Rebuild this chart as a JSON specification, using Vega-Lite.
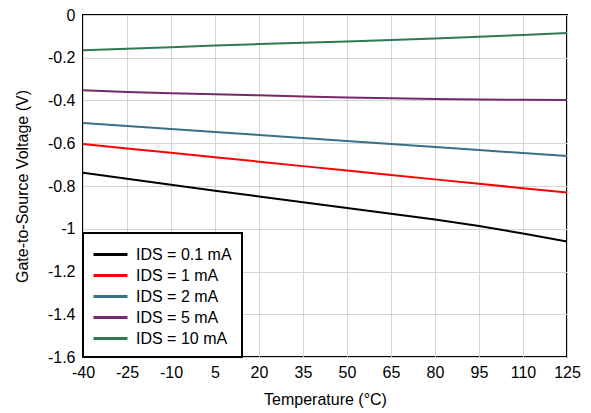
{
  "$schema": "https://vega.github.io/schema/vega-lite/v6.json",
  "width": 484,
  "height": 342,
  "autosize": {"type": "none"},
  "padding": {"left": 83, "top": 15, "right": 24, "bottom": 56},
  "background": "white",
  "config": {
    "font": "Liberation Sans",
    "view": {"stroke": "black", "strokeWidth": 2},
    "axis": {
      "domain": false,
      "ticks": false,
      "gridColor": "#d4d4d4",
      "gridWidth": 1,
      "labelColor": "black",
      "titleColor": "black",
      "labelFont": "Liberation Sans",
      "titleFont": "Liberation Sans",
      "labelFontSize": 16,
      "titleFontSize": 16,
      "titleFontWeight": "normal"
    },
    "legend": {"strokeWidth": 2}
  },
  "data": {
    "values": [
      {"t": -40, "v": -0.738, "s": "0.1 mA"}, {"t": -25, "v": -0.766, "s": "0.1 mA"}, {"t": -10, "v": -0.794, "s": "0.1 mA"}, {"t": 5, "v": -0.822, "s": "0.1 mA"}, {"t": 20, "v": -0.849, "s": "0.1 mA"}, {"t": 35, "v": -0.876, "s": "0.1 mA"}, {"t": 50, "v": -0.903, "s": "0.1 mA"}, {"t": 65, "v": -0.930, "s": "0.1 mA"}, {"t": 80, "v": -0.957, "s": "0.1 mA"}, {"t": 95, "v": -0.987, "s": "0.1 mA"}, {"t": 110, "v": -1.022, "s": "0.1 mA"}, {"t": 125, "v": -1.060, "s": "0.1 mA"},
      {"t": -40, "v": -0.604, "s": "1 mA"}, {"t": -25, "v": -0.625, "s": "1 mA"}, {"t": -10, "v": -0.645, "s": "1 mA"}, {"t": 5, "v": -0.666, "s": "1 mA"}, {"t": 20, "v": -0.686, "s": "1 mA"}, {"t": 35, "v": -0.707, "s": "1 mA"}, {"t": 50, "v": -0.728, "s": "1 mA"}, {"t": 65, "v": -0.748, "s": "1 mA"}, {"t": 80, "v": -0.769, "s": "1 mA"}, {"t": 95, "v": -0.790, "s": "1 mA"}, {"t": 110, "v": -0.810, "s": "1 mA"}, {"t": 125, "v": -0.831, "s": "1 mA"},
      {"t": -40, "v": -0.505, "s": "2 mA"}, {"t": -25, "v": -0.519, "s": "2 mA"}, {"t": -10, "v": -0.533, "s": "2 mA"}, {"t": 5, "v": -0.547, "s": "2 mA"}, {"t": 20, "v": -0.561, "s": "2 mA"}, {"t": 35, "v": -0.576, "s": "2 mA"}, {"t": 50, "v": -0.590, "s": "2 mA"}, {"t": 65, "v": -0.604, "s": "2 mA"}, {"t": 80, "v": -0.618, "s": "2 mA"}, {"t": 95, "v": -0.632, "s": "2 mA"}, {"t": 110, "v": -0.646, "s": "2 mA"}, {"t": 125, "v": -0.660, "s": "2 mA"},
      {"t": -40, "v": -0.352, "s": "5 mA"}, {"t": -25, "v": -0.360, "s": "5 mA"}, {"t": -10, "v": -0.366, "s": "5 mA"}, {"t": 5, "v": -0.371, "s": "5 mA"}, {"t": 20, "v": -0.376, "s": "5 mA"}, {"t": 35, "v": -0.381, "s": "5 mA"}, {"t": 50, "v": -0.386, "s": "5 mA"}, {"t": 65, "v": -0.390, "s": "5 mA"}, {"t": 80, "v": -0.393, "s": "5 mA"}, {"t": 95, "v": -0.395, "s": "5 mA"}, {"t": 110, "v": -0.397, "s": "5 mA"}, {"t": 125, "v": -0.398, "s": "5 mA"},
      {"t": -40, "v": -0.165, "s": "10 mA"}, {"t": -25, "v": -0.158, "s": "10 mA"}, {"t": -10, "v": -0.151, "s": "10 mA"}, {"t": 5, "v": -0.143, "s": "10 mA"}, {"t": 20, "v": -0.136, "s": "10 mA"}, {"t": 35, "v": -0.130, "s": "10 mA"}, {"t": 50, "v": -0.124, "s": "10 mA"}, {"t": 65, "v": -0.117, "s": "10 mA"}, {"t": 80, "v": -0.110, "s": "10 mA"}, {"t": 95, "v": -0.102, "s": "10 mA"}, {"t": 110, "v": -0.093, "s": "10 mA"}, {"t": 125, "v": -0.084, "s": "10 mA"}
    ]
  },
  "mark": {"type": "line", "strokeWidth": 2, "clip": true},
  "encoding": {
    "x": {
      "field": "t", "type": "quantitative",
      "scale": {"domain": [-40, 125], "nice": false, "zero": false},
      "axis": {"values": [-40, -25, -10, 5, 20, 35, 50, 65, 80, 95, 110, 125], "labelExpr": "'' + datum.value", "labelPadding": 7, "title": "Temperature (°C)", "titlePadding": 11, "labelFlush": false}
    },
    "y": {
      "field": "v", "type": "quantitative",
      "scale": {"domain": [-1.6, 0], "nice": false, "zero": false},
      "axis": {"values": [0, -0.2, -0.4, -0.6, -0.8, -1, -1.2, -1.4, -1.6], "labelExpr": "'' + datum.value", "labelPadding": 8, "title": "Gate-to-Source Voltage (V)", "titlePadding": 17}
    },
    "color": {
      "field": "s", "type": "nominal",
      "scale": {"domain": ["0.1 mA", "1 mA", "2 mA", "5 mA", "10 mA"], "range": ["#000000", "#ff0000", "#3a6f8c", "#772a6a", "#2e7a52"]},
      "legend": {
        "orient": "bottom-left",
        "offset": 0,
        "title": null,
        "labelExpr": "'IDS = ' + datum.label",
        "labelFont": "Liberation Sans",
        "labelFontSize": 16,
        "labelColor": "black",
        "strokeColor": "black",
        "fillColor": "white",
        "padding": 10,
        "rowPadding": 1,
        "symbolType": "M-1.7,0H1.7",
        "symbolSize": 400,
        "symbolStrokeWidth": 3,
        "symbolOffset": 6,
        "labelOffset": 14
      }
    }
  }
}
